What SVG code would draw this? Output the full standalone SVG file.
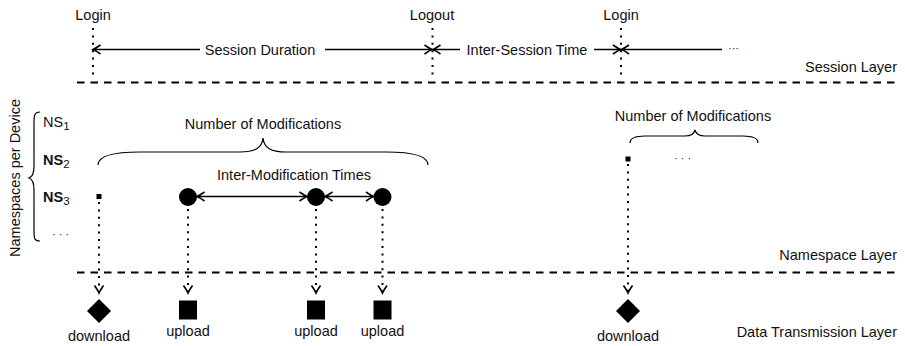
<svg xmlns="http://www.w3.org/2000/svg" width="905" height="346" viewBox="0 0 905 346">
<defs>
<style>
text{font-family:"Liberation Sans",Arial,sans-serif;font-size:14.5px;fill:#111}
.m{text-anchor:middle}
.e{text-anchor:end}
.b{font-weight:bold}
.sol{stroke:#000;stroke-width:1.5;fill:none}
.dash{stroke:#000;stroke-width:2;stroke-dasharray:7.5 6;fill:none}
.dot{stroke:#000;stroke-width:2;stroke-dasharray:2 5.4;fill:none}
.brace{stroke:#000;stroke-width:1.2;fill:none}
</style>
<marker id="ah" viewBox="-9 -6 11 12" markerWidth="11" markerHeight="12" refX="0" refY="0" orient="auto-start-reverse" markerUnits="userSpaceOnUse">
<path d="M-7.5,-4.5 Q-2.5,-1 0,0 Q-2.5,1 -7.5,4.5" stroke="#000" stroke-width="1.6" fill="none" stroke-dasharray="none"/>
</marker>
</defs>

<g id="layers">
<path class="dash" d="M77,82.5 H897"/>
<path class="dash" d="M77,272.5 H897"/>
<text class="e" x="897" y="72">Session Layer</text>
<text class="e" x="897" y="260">Namespace Layer</text>
<text class="e" x="897" y="337">Data Transmission Layer</text>
</g>

<g id="session-events">
<text class="m" x="93" y="20">Login</text>
<text class="m" x="432" y="20">Logout</text>
<text class="m" x="621" y="20">Login</text>
<text class="m" x="260" y="55">Session Duration</text>
<text class="m" x="527" y="55">Inter-Session Time</text>
<text x="728" y="52" style="font-size:11px">···</text>
</g>

<g id="namespaces">
<text class="m" transform="translate(20,178) rotate(-90)">Namespaces per Device</text>
<path class="brace" d="M40,112 C34,112 34,116 34,124 L34,166 C34,174 32,177 29,178 C32,179 34,182 34,190 L34,230 C34,238 34,241 40,241"/>
<text x="43" y="127">NS<tspan dy="3" style="font-size:11.5px">1</tspan></text>
<text class="b" x="43" y="165">NS<tspan dy="3" style="font-size:11.5px;font-weight:normal">2</tspan></text>
<text class="b" x="43" y="202">NS<tspan dy="3" style="font-size:11.5px;font-weight:normal">3</tspan></text>
<text x="52" y="238" style="font-size:11px">· · ·</text>
</g>

<g id="mods-left">
<text class="m" x="263" y="129">Number of Modifications</text>
<path class="brace" d="M98,165 C98,156 112,152 140,152 L240,152 C255,152 262,148 263,138 C264,148 271,152 286,152 L386,152 C414,152 428,156 428,165"/>
<text class="m" x="294" y="180">Inter-Modification Times</text>
<rect x="96.5" y="194" width="5" height="5" fill="#000"/>
<circle cx="188" cy="197" r="9" fill="#000"/>
<circle cx="316" cy="197" r="9" fill="#000"/>
<circle cx="382.5" cy="197" r="9" fill="#000"/>
</g>

<g id="mods-right">
<text class="m" x="693" y="121">Number of Modifications</text>
<path class="brace" d="M630,143 C630,139 634,136 645,136 L685,136 C691,136 694,134 695,130 C696,134 699,136 705,136 L743,136 C754,136 758,139 758,143"/>
<rect x="625.5" y="156.5" width="5" height="5" fill="#000"/>
<text x="674" y="162" style="font-size:11px">· · ·</text>
</g>

<g id="transmissions">
<path d="M99,299 L111,311 L99,323 L87,311 Z" fill="#000"/>
<rect x="179" y="300.5" width="18" height="19" fill="#000"/>
<rect x="307" y="300.5" width="18" height="19" fill="#000"/>
<rect x="373.5" y="300.5" width="18" height="19" fill="#000"/>
<path d="M628,299 L640,311 L628,323 L616,311 Z" fill="#000"/>
<text class="m" x="99" y="341">download</text>
<text class="m" x="188" y="336">upload</text>
<text class="m" x="316" y="336">upload</text>
<text class="m" x="382.5" y="336">upload</text>
<text class="m" x="628" y="341">download</text>
</g>

<g id="connectors">
<path class="dot" d="M93,28 V78"/>
<path class="dot" d="M432.5,28 V78"/>
<path class="dot" d="M621,28 V78"/>
<path class="sol" d="M200,49.5 H93" marker-end="url(#ah)"/>
<path class="sol" d="M325,49.5 H432" marker-end="url(#ah)"/>
<path class="sol" d="M460,49.5 H433" marker-end="url(#ah)"/>
<path class="sol" d="M594,49.5 H620.5" marker-end="url(#ah)"/>
<path class="sol" d="M722,49.5 H621.5" marker-end="url(#ah)"/>
<path class="sol" d="M197,196.5 H307" marker-start="url(#ah)" marker-end="url(#ah)"/>
<path class="sol" d="M325,196.5 H373.5" marker-start="url(#ah)" marker-end="url(#ah)"/>
<path class="dot" d="M99,202 V293" marker-end="url(#ah)"/>
<path class="dot" d="M188,209 V293" marker-end="url(#ah)"/>
<path class="dot" d="M316,209 V293" marker-end="url(#ah)"/>
<path class="dot" d="M382.5,209 V293" marker-end="url(#ah)"/>
<path class="dot" d="M628,164 V293" marker-end="url(#ah)"/>
</g>
</svg>
